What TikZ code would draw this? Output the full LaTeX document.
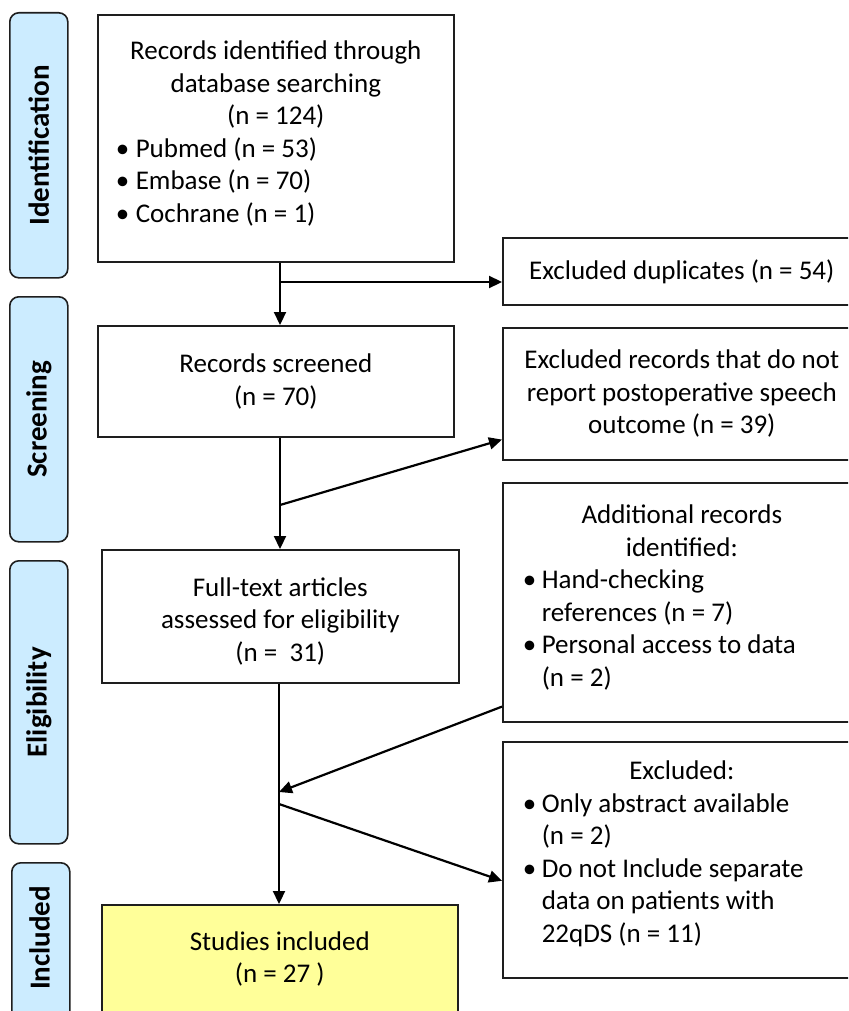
\documentclass[tikz,border=0pt]{standalone}
\usepackage{fontspec}
\setmainfont{Carlito}
\usetikzlibrary{arrows.meta}
\definecolor{phaseblue}{RGB}{204,236,255}
\definecolor{incyellow}{RGB}{255,255,153}
\definecolor{boxline}{RGB}{30,30,30}
\newcommand\bul[2][19pt]{\par\hangindent=#1\hangafter=1\noindent\makebox[#1][l]{\textbullet}#2}
\newcommand\listtext[2]{\parbox{#1}{\raggedright\fontsize{27}{32.5}\selectfont #2}}
\begin{document}
\begin{tikzpicture}[x=1pt,y=-1pt,
  phase/.style={draw=boxline, line width=1.6pt, fill=phaseblue, rounded corners=9pt,
    minimum width=58pt, anchor=north west, inner sep=0pt},
  phasetext/.style={rotate=90, font=\bfseries\fontsize{29}{33}\selectfont},
  box/.style={draw=boxline, line width=1.6pt, fill=white, anchor=north west, inner sep=0pt,
    font=\fontsize{27}{32.5}\selectfont, align=center},
  listbox/.style={draw=boxline, line width=1.6pt, fill=white, anchor=north west, inner sep=0pt},
  flow/.style={line width=2.2pt, draw=black, -{Triangle[length=13pt,width=12pt]}}]
\useasboundingbox (0,0) rectangle (848,1011);
\clip (0,0) rectangle (848,1011);
% phase labels
\node[phase, minimum height=265pt] (ident) at (9,12) {};
\node[phasetext] (identT) at (ident.center) {Identification};
\node[phase, minimum height=245pt] (screen) at (9,296) {};
\node[phasetext] (screenT) at (screen.center) {Screening};
\node[phase, minimum height=283pt] (elig) at (9,560) {};
\node[phasetext] (eligT) at (elig.center) {Eligibility};
\node[phase, minimum height=200pt] (incl) at (11,862) {};
\node[phasetext] (inclT) at (39.5,938) {Included};
% main boxes
\node[listbox, minimum width=356pt, minimum height=247pt] (b1) at (97,14)
  {\listtext{320pt}{{\centering Records identified through\\database searching\\(n = 124)\par}
   \bul[20pt]{Pubmed (n = 53)}
   \bul[20pt]{Embase (n = 70)}
   \bul[20pt]{Cochrane (n = 1)}\par\vspace*{10pt}}};
\node[box, minimum width=358pt, minimum height=67pt] (dup) at (502,237) {Excluded duplicates (n = 54)};
\node[box, minimum width=356pt, minimum height=111pt] (b2) at (97,325) {Records screened\\(n = 70)};
\node[box, minimum width=358pt, minimum height=132pt] (exrec) at (502,327)
  {Excluded records that do not\\report postoperative speech\\outcome (n = 39)};
\node[box, minimum width=357pt, minimum height=133pt] (b3) at (101,549)
  {\mbox{}\\[-4pt]Full-text articles\\assessed for eligibility\\(n =\ \ 31)};
\node[listbox, minimum width=358pt, minimum height=239pt] (add) at (502,482)
  {\listtext{318pt}{{\centering Additional records\\identified:\par}
   \bul{Hand-checking\newline references (n = 7)}
   \bul{Personal access to data\newline (n = 2)}\par\vspace*{10pt}}};
\node[listbox, minimum width=358pt, minimum height=236pt] (exc) at (502,741)
  {\listtext{318pt}{{\centering Excluded:\par}
   \bul{Only abstract available\newline (n = 2)}
   \bul{Do not Include separate\newline data on patients with\newline 22qDS (n = 11)}\par\vspace*{12pt}}};
\node[box, fill=incyellow, minimum width=356pt, minimum height=108pt] (res) at (101,904)
  {Studies included\\(n = 27 )};
% junctions
\coordinate (j1) at (280,282);
\coordinate (j2) at (280,505);
\coordinate (j3) at (279,792);
\coordinate (j4) at (279,804);
% connectors
\draw[flow] (b1.south -| j1) -- (b2.north -| j1);
\draw[flow] (j1) -- (j1 -| dup.west);
\draw[flow] (b2.south -| j2) -- (b3.north -| j2);
\draw[flow] (j2) -- ([yshift=21pt]exrec.south west);
\draw[flow] ([yshift=16pt]add.south west) -- (j3);
\draw[flow] (j4) -- ([yshift=-21pt]exc.west);
\draw[flow] (b3.south -| j3) -- (res.north -| j3);
\end{tikzpicture}
\end{document}
